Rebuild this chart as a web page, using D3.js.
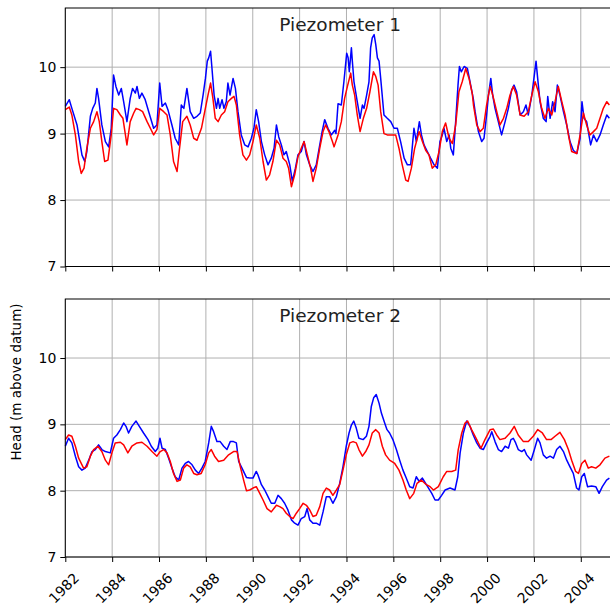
<!DOCTYPE html>
<html>
<head>
<meta charset="utf-8">
<script src="https://cdn.jsdelivr.net/npm/d3@7"></script>
<style>
  body { margin: 0; background: #fff; }
  text { font-family: "DejaVu Sans", sans-serif; }
</style>
</head>
<body>
<div id="chart"></div>
<script>
// Chart size
var width = 610, height = 616;

// Panel titles and year ticks
var panelTitles = ["Piezometer 1", "Piezometer 2"];
var yearTicks = [1982, 1984, 1986, 1988, 1990, 1992, 1994, 1996, 1998, 2000, 2002, 2004];
var headTicks = [7, 8, 9, 10];

// Piezometer 1, blue series [year, head]
var p1Blue = [
  [1982.00, 9.41], [1982.17, 9.51], [1982.28, 9.38], [1982.50, 9.13], [1982.71, 8.68], [1982.83, 8.58],
  [1982.92, 8.73], [1983.07, 9.26], [1983.17, 9.38], [1983.28, 9.46], [1983.35, 9.68], [1983.42, 9.53],
  [1983.56, 9.13], [1983.71, 8.88], [1983.85, 8.80], [1983.96, 9.08], [1984.06, 9.88], [1984.16, 9.71],
  [1984.28, 9.58], [1984.39, 9.68], [1984.49, 9.48], [1984.63, 9.18], [1984.77, 9.53], [1984.87, 9.68],
  [1984.99, 9.61], [1985.06, 9.71], [1985.16, 9.53], [1985.27, 9.61], [1985.41, 9.51], [1985.56, 9.33],
  [1985.77, 9.08], [1985.91, 9.13], [1986.03, 9.76], [1986.13, 9.41], [1986.27, 9.46], [1986.38, 9.36],
  [1986.55, 9.13], [1986.69, 8.93], [1986.84, 8.83], [1986.95, 9.43], [1987.06, 9.38], [1987.19, 9.68],
  [1987.33, 9.33], [1987.48, 9.23], [1987.62, 9.26], [1987.76, 9.31], [1987.88, 9.58], [1987.98, 9.83],
  [1988.06, 10.09], [1988.12, 10.14], [1988.20, 10.24], [1988.26, 9.98], [1988.35, 9.58], [1988.45, 9.38],
  [1988.52, 9.53], [1988.59, 9.38], [1988.69, 9.51], [1988.77, 9.38], [1988.87, 9.48], [1988.94, 9.76],
  [1989.03, 9.58], [1989.16, 9.83], [1989.26, 9.68], [1989.37, 9.33], [1989.51, 8.98], [1989.66, 8.83],
  [1989.80, 8.80], [1989.94, 8.93], [1990.05, 9.08], [1990.15, 9.36], [1990.25, 9.18], [1990.37, 8.88],
  [1990.51, 8.68], [1990.65, 8.53], [1990.79, 8.63], [1990.91, 8.78], [1991.01, 9.13], [1991.11, 8.95],
  [1991.22, 8.83], [1991.33, 8.68], [1991.43, 8.73], [1991.58, 8.53], [1991.69, 8.28], [1991.82, 8.48],
  [1991.93, 8.68], [1992.07, 8.73], [1992.19, 8.88], [1992.29, 8.68], [1992.43, 8.53], [1992.57, 8.43],
  [1992.71, 8.53], [1992.86, 8.83], [1992.96, 9.03], [1993.07, 9.21], [1993.21, 9.08], [1993.35, 8.98],
  [1993.50, 9.05], [1993.55, 9.00], [1993.64, 9.45], [1993.78, 9.43], [1993.89, 9.78], [1994.01, 10.21],
  [1994.07, 10.14], [1994.12, 9.93], [1994.21, 10.29], [1994.25, 10.09], [1994.32, 9.78], [1994.46, 9.48],
  [1994.58, 9.23], [1994.68, 9.43], [1994.75, 9.38], [1994.86, 9.58], [1994.96, 9.78], [1995.03, 10.29],
  [1995.10, 10.44], [1995.18, 10.49], [1995.25, 10.34], [1995.32, 10.14], [1995.39, 10.09], [1995.46, 9.83],
  [1995.60, 9.28], [1995.74, 9.23], [1995.89, 9.18], [1996.03, 9.08], [1996.17, 9.08], [1996.31, 8.88],
  [1996.46, 8.63], [1996.60, 8.53], [1996.74, 8.53], [1996.88, 9.08], [1996.98, 8.88], [1997.11, 9.18],
  [1997.20, 8.98], [1997.31, 8.83], [1997.45, 8.73], [1997.59, 8.63], [1997.74, 8.53], [1997.88, 8.48],
  [1997.99, 8.88], [1998.09, 8.98], [1998.16, 9.08], [1998.28, 8.88], [1998.38, 8.98], [1998.45, 8.78],
  [1998.56, 8.68], [1998.66, 9.18], [1998.76, 9.73], [1998.82, 10.01], [1998.90, 9.93], [1999.02, 10.01],
  [1999.16, 9.98], [1999.30, 9.73], [1999.41, 9.53], [1999.49, 9.33], [1999.63, 9.03], [1999.77, 8.88],
  [1999.87, 8.93], [1999.98, 9.28], [2000.06, 9.58], [2000.16, 9.83], [2000.24, 9.58], [2000.34, 9.38],
  [2000.48, 9.18], [2000.62, 8.98], [2000.77, 9.18], [2000.91, 9.38], [2001.05, 9.66], [2001.15, 9.73],
  [2001.26, 9.63], [2001.41, 9.28], [2001.55, 9.33], [2001.66, 9.43], [2001.76, 9.28], [2001.91, 9.58],
  [2002.00, 9.83], [2002.09, 10.09], [2002.16, 9.83], [2002.26, 9.48], [2002.40, 9.23], [2002.52, 9.18],
  [2002.59, 9.56], [2002.69, 9.23], [2002.80, 9.48], [2002.90, 9.33], [2003.00, 9.73], [2003.11, 9.58],
  [2003.26, 9.33], [2003.40, 9.13], [2003.54, 8.88], [2003.68, 8.75], [2003.83, 8.70], [2003.97, 8.93],
  [2004.05, 9.48], [2004.14, 9.23], [2004.25, 9.18], [2004.37, 8.93], [2004.42, 8.83], [2004.54, 8.98],
  [2004.68, 8.88], [2004.82, 8.98], [2004.96, 9.13], [2005.11, 9.28], [2005.22, 9.23]
];

// Piezometer 1, red series [year, head]
var p1Red = [
  [1982.00, 9.36], [1982.17, 9.40], [1982.28, 9.28], [1982.43, 8.98], [1982.57, 8.58], [1982.68, 8.40],
  [1982.80, 8.48], [1982.92, 8.78], [1983.07, 9.08], [1983.21, 9.18], [1983.35, 9.33], [1983.45, 9.18],
  [1983.56, 8.88], [1983.68, 8.58], [1983.82, 8.60], [1983.96, 8.98], [1984.06, 9.38], [1984.20, 9.36],
  [1984.35, 9.28], [1984.46, 9.23], [1984.63, 8.83], [1984.77, 9.18], [1984.92, 9.31], [1985.02, 9.38],
  [1985.16, 9.36], [1985.30, 9.33], [1985.49, 9.18], [1985.63, 9.08], [1985.77, 8.98], [1985.91, 9.06],
  [1986.03, 9.38], [1986.20, 9.33], [1986.34, 9.28], [1986.48, 8.98], [1986.62, 8.58], [1986.77, 8.43],
  [1986.86, 8.73], [1987.01, 9.18], [1987.19, 9.26], [1987.33, 9.13], [1987.48, 8.93], [1987.62, 8.90],
  [1987.81, 9.08], [1987.95, 9.33], [1988.09, 9.58], [1988.20, 9.76], [1988.30, 9.53], [1988.40, 9.23],
  [1988.52, 9.18], [1988.66, 9.28], [1988.80, 9.33], [1988.94, 9.48], [1989.09, 9.53], [1989.20, 9.56],
  [1989.30, 9.43], [1989.44, 8.98], [1989.58, 8.68], [1989.73, 8.60], [1989.87, 8.68], [1990.01, 8.88],
  [1990.15, 9.13], [1990.30, 8.93], [1990.44, 8.58], [1990.58, 8.30], [1990.72, 8.38], [1990.86, 8.58],
  [1991.01, 8.90], [1991.15, 8.83], [1991.29, 8.63], [1991.43, 8.58], [1991.53, 8.48], [1991.65, 8.20],
  [1991.79, 8.38], [1991.93, 8.65], [1992.07, 8.78], [1992.19, 8.88], [1992.33, 8.68], [1992.47, 8.48],
  [1992.57, 8.28], [1992.71, 8.48], [1992.86, 8.78], [1993.00, 9.03], [1993.11, 9.13], [1993.25, 9.03],
  [1993.40, 8.88], [1993.47, 8.80], [1993.64, 8.98], [1993.78, 9.18], [1993.92, 9.53], [1994.04, 9.71],
  [1994.18, 9.91], [1994.25, 9.73], [1994.35, 9.58], [1994.46, 9.28], [1994.58, 9.03], [1994.72, 9.23],
  [1994.86, 9.38], [1995.00, 9.63], [1995.15, 9.93], [1995.25, 9.86], [1995.35, 9.73], [1995.46, 9.33],
  [1995.60, 9.00], [1995.74, 8.98], [1995.96, 8.98], [1996.10, 8.98], [1996.24, 8.78], [1996.38, 8.53],
  [1996.53, 8.30], [1996.63, 8.28], [1996.77, 8.48], [1996.91, 8.78], [1997.10, 9.03], [1997.24, 8.88],
  [1997.38, 8.75], [1997.52, 8.68], [1997.66, 8.48], [1997.81, 8.53], [1997.95, 8.73], [1998.09, 9.03],
  [1998.23, 9.16], [1998.38, 8.93], [1998.52, 8.85], [1998.66, 9.13], [1998.80, 9.63], [1998.94, 9.78],
  [1999.09, 9.98], [1999.23, 9.83], [1999.37, 9.60], [1999.42, 9.43], [1999.56, 9.13], [1999.70, 9.03],
  [1999.84, 9.08], [1999.98, 9.43], [2000.13, 9.71], [2000.24, 9.58], [2000.38, 9.38], [2000.55, 9.13],
  [2000.70, 9.23], [2000.84, 9.38], [2000.98, 9.58], [2001.12, 9.71], [2001.26, 9.58], [2001.41, 9.28],
  [2001.58, 9.26], [2001.76, 9.33], [2001.91, 9.58], [2002.05, 9.78], [2002.19, 9.63], [2002.33, 9.38],
  [2002.47, 9.23], [2002.62, 9.38], [2002.76, 9.28], [2002.90, 9.48], [2003.04, 9.71], [2003.19, 9.48],
  [2003.33, 9.28], [2003.47, 8.98], [2003.61, 8.73], [2003.83, 8.70], [2003.97, 8.98], [2004.11, 9.31],
  [2004.25, 9.13], [2004.39, 8.98], [2004.54, 9.03], [2004.68, 9.08], [2004.82, 9.23], [2004.96, 9.38],
  [2005.11, 9.48], [2005.22, 9.43]
];

// Piezometer 2, blue series [year, head]
var p2Blue = [
  [1982.00, 8.67], [1982.14, 8.79], [1982.28, 8.72], [1982.43, 8.52], [1982.57, 8.36], [1982.71, 8.31],
  [1982.85, 8.34], [1983.00, 8.46], [1983.14, 8.59], [1983.28, 8.62], [1983.42, 8.69], [1983.56, 8.62],
  [1983.71, 8.59], [1983.92, 8.57], [1984.06, 8.79], [1984.20, 8.84], [1984.35, 8.92], [1984.49, 9.02],
  [1984.59, 8.97], [1984.70, 8.87], [1984.84, 8.97], [1985.02, 9.05], [1985.16, 8.97], [1985.34, 8.87],
  [1985.53, 8.77], [1985.67, 8.67], [1985.84, 8.59], [1985.95, 8.64], [1986.04, 8.79], [1986.13, 8.64],
  [1986.27, 8.62], [1986.41, 8.49], [1986.55, 8.34], [1986.69, 8.21], [1986.84, 8.16], [1986.98, 8.34],
  [1987.12, 8.41], [1987.26, 8.44], [1987.41, 8.39], [1987.55, 8.31], [1987.69, 8.26], [1987.83, 8.34],
  [1987.97, 8.44], [1988.12, 8.72], [1988.23, 8.97], [1988.33, 8.89], [1988.47, 8.74], [1988.61, 8.74],
  [1988.76, 8.67], [1988.90, 8.62], [1989.04, 8.74], [1989.18, 8.74], [1989.30, 8.72], [1989.40, 8.44],
  [1989.54, 8.34], [1989.73, 8.20], [1989.87, 8.19], [1990.01, 8.19], [1990.15, 8.29], [1990.22, 8.24],
  [1990.37, 8.09], [1990.51, 8.01], [1990.65, 7.91], [1990.79, 7.81], [1990.94, 7.81], [1991.08, 7.93],
  [1991.22, 7.88], [1991.36, 7.81], [1991.50, 7.71], [1991.65, 7.56], [1991.79, 7.51], [1991.93, 7.48],
  [1992.07, 7.58], [1992.22, 7.61], [1992.32, 7.73], [1992.43, 7.56], [1992.57, 7.51], [1992.71, 7.51],
  [1992.86, 7.48], [1993.00, 7.68], [1993.14, 7.91], [1993.28, 7.91], [1993.42, 7.81], [1993.57, 7.91],
  [1993.71, 8.11], [1993.85, 8.36], [1993.99, 8.67], [1994.11, 8.87], [1994.21, 8.99], [1994.31, 9.05],
  [1994.42, 8.94], [1994.53, 8.79], [1994.71, 8.77], [1994.85, 8.82], [1994.96, 8.97], [1995.06, 9.27],
  [1995.16, 9.40], [1995.27, 9.45], [1995.39, 9.32], [1995.49, 9.17], [1995.63, 9.02], [1995.73, 8.92],
  [1995.84, 8.87], [1995.98, 8.77], [1996.13, 8.62], [1996.27, 8.46], [1996.41, 8.31], [1996.55, 8.19],
  [1996.70, 8.06], [1996.84, 8.04], [1996.98, 8.21], [1997.10, 8.14], [1997.24, 8.19], [1997.41, 8.09],
  [1997.64, 7.96], [1997.78, 7.86], [1997.92, 7.86], [1998.06, 7.93], [1998.21, 8.01], [1998.42, 8.04],
  [1998.63, 8.01], [1998.75, 8.21], [1998.85, 8.57], [1998.99, 8.87], [1999.13, 9.05], [1999.27, 8.97],
  [1999.41, 8.84], [1999.56, 8.72], [1999.70, 8.64], [1999.84, 8.62], [1999.98, 8.72], [2000.13, 8.82],
  [2000.20, 8.89], [2000.34, 8.74], [2000.48, 8.62], [2000.62, 8.59], [2000.77, 8.67], [2000.91, 8.64],
  [2001.02, 8.77], [2001.12, 8.79], [2001.22, 8.72], [2001.33, 8.62], [2001.48, 8.59], [2001.59, 8.62],
  [2001.69, 8.54], [2001.88, 8.46], [2002.02, 8.62], [2002.16, 8.79], [2002.26, 8.72], [2002.40, 8.54],
  [2002.54, 8.49], [2002.69, 8.52], [2002.83, 8.49], [2002.97, 8.62], [2003.11, 8.67], [2003.26, 8.59],
  [2003.40, 8.46], [2003.54, 8.36], [2003.68, 8.26], [2003.82, 8.04], [2003.92, 8.01], [2004.04, 8.21],
  [2004.15, 8.26], [2004.29, 8.06], [2004.46, 8.07], [2004.64, 8.06], [2004.78, 7.96], [2004.92, 8.06],
  [2005.10, 8.16], [2005.22, 8.19]
];

// Piezometer 2, red series [year, head]
var p2Red = [
  [1982.00, 8.77], [1982.14, 8.84], [1982.28, 8.82], [1982.43, 8.67], [1982.57, 8.49], [1982.78, 8.34],
  [1982.92, 8.36], [1983.07, 8.52], [1983.21, 8.62], [1983.39, 8.67], [1983.56, 8.59], [1983.71, 8.46],
  [1983.85, 8.39], [1983.99, 8.57], [1984.13, 8.72], [1984.35, 8.73], [1984.49, 8.69], [1984.67, 8.57],
  [1984.84, 8.67], [1985.06, 8.72], [1985.27, 8.73], [1985.49, 8.67], [1985.70, 8.59], [1985.91, 8.52],
  [1986.05, 8.59], [1986.20, 8.62], [1986.34, 8.57], [1986.48, 8.44], [1986.62, 8.26], [1986.77, 8.14],
  [1986.91, 8.16], [1987.05, 8.34], [1987.19, 8.39], [1987.33, 8.36], [1987.48, 8.26], [1987.62, 8.24],
  [1987.80, 8.26], [1987.97, 8.39], [1988.12, 8.57], [1988.23, 8.62], [1988.37, 8.52], [1988.54, 8.44],
  [1988.76, 8.46], [1988.97, 8.54], [1989.18, 8.59], [1989.33, 8.59], [1989.47, 8.36], [1989.61, 8.16],
  [1989.73, 8.00], [1989.87, 8.01], [1990.01, 8.04], [1990.15, 8.06], [1990.30, 7.96], [1990.44, 7.86],
  [1990.61, 7.73], [1990.79, 7.68], [1991.01, 7.78], [1991.15, 7.76], [1991.29, 7.73], [1991.43, 7.66],
  [1991.58, 7.61], [1991.72, 7.58], [1991.86, 7.66], [1992.00, 7.73], [1992.15, 7.81], [1992.29, 7.78],
  [1992.43, 7.71], [1992.57, 7.61], [1992.71, 7.63], [1992.86, 7.76], [1993.00, 7.96], [1993.14, 8.04],
  [1993.28, 8.01], [1993.42, 7.93], [1993.57, 8.01], [1993.71, 8.09], [1993.85, 8.31], [1993.99, 8.54],
  [1994.14, 8.72], [1994.28, 8.74], [1994.42, 8.72], [1994.53, 8.62], [1994.68, 8.52], [1994.82, 8.59],
  [1994.96, 8.69], [1995.10, 8.87], [1995.25, 8.92], [1995.39, 8.87], [1995.53, 8.67], [1995.67, 8.54],
  [1995.84, 8.46], [1996.06, 8.41], [1996.24, 8.31], [1996.41, 8.16], [1996.55, 8.01], [1996.70, 7.88],
  [1996.87, 7.96], [1997.01, 8.11], [1997.19, 8.16], [1997.41, 8.09], [1997.57, 8.06], [1997.71, 8.01],
  [1997.92, 8.06], [1998.13, 8.21], [1998.28, 8.29], [1998.49, 8.29], [1998.66, 8.31], [1998.77, 8.62],
  [1998.92, 8.87], [1999.06, 9.02], [1999.17, 9.05], [1999.34, 8.92], [1999.56, 8.77], [1999.74, 8.64],
  [1999.91, 8.77], [2000.13, 8.92], [2000.27, 8.93], [2000.41, 8.84], [2000.55, 8.77], [2000.77, 8.79],
  [2000.98, 8.87], [2001.16, 8.97], [2001.33, 8.84], [2001.55, 8.74], [2001.76, 8.74], [2001.97, 8.82],
  [2002.16, 8.92], [2002.36, 8.87], [2002.54, 8.77], [2002.73, 8.77], [2002.90, 8.82], [2003.11, 8.88],
  [2003.30, 8.77], [2003.47, 8.62], [2003.61, 8.46], [2003.78, 8.29], [2003.90, 8.26], [2004.04, 8.41],
  [2004.18, 8.46], [2004.32, 8.34], [2004.46, 8.36], [2004.64, 8.34], [2004.82, 8.39], [2005.03, 8.49],
  [2005.22, 8.52]
];

var panels = [
  { title: panelTitles[0], blue: p1Blue, red: p1Red, top: 8, bottom: 266.5, labels: false },
  { title: panelTitles[1], blue: p2Blue, red: p2Red, top: 299, bottom: 557, labels: true }
];

var left = 65.3, right = 615;

var svg = d3.select("#chart").append("svg")
    .attr("width", width)
    .attr("height", height);

// Shared x scale
var x = d3.scaleLinear()
    .domain([1982, 2005.46])
    .range([left, right]);

panels.forEach(function(p) {
  var y = d3.scaleLinear()
      .domain([7, 10.89])
      .range([p.bottom, p.top]);

  var g = svg.append("g");

  // gridlines
  g.selectAll(".vgrid")
    .data(yearTicks)
    .enter().append("line")
    .attr("x1", d => x(d)).attr("x2", d => x(d))
    .attr("y1", p.top).attr("y2", p.bottom)
    .attr("stroke", "#b0b0b0").attr("stroke-width", 1);

  g.selectAll(".hgrid")
    .data(headTicks)
    .enter().append("line")
    .attr("x1", left).attr("x2", right)
    .attr("y1", d => y(d)).attr("y2", d => y(d))
    .attr("stroke", "#b0b0b0").attr("stroke-width", 1);

  // lines
  var line = d3.line()
      .x(d => x(d[0]))
      .y(d => y(d[1]));

  g.append("path")
    .datum(p.blue)
    .attr("d", line)
    .attr("fill", "none")
    .attr("stroke", "#0000ff")
    .attr("stroke-width", 1.5)
    .attr("stroke-linejoin", "round");

  g.append("path")
    .datum(p.red)
    .attr("d", line)
    .attr("fill", "none")
    .attr("stroke", "#ff0000")
    .attr("stroke-width", 1.5)
    .attr("stroke-linejoin", "round");

  // spines
  g.append("rect")
    .attr("x", left).attr("y", p.top)
    .attr("width", right - left).attr("height", p.bottom - p.top)
    .attr("fill", "none").attr("stroke", "#000").attr("stroke-width", 1);

  // y axis
  var yAxis = d3.axisLeft(y)
      .tickValues(headTicks)
      .tickSize(5)
      .tickPadding(4)
      .tickFormat(d3.format("d"));
  var ya = g.append("g")
      .attr("transform", "translate(" + left + ",0)")
      .call(yAxis);
  ya.select(".domain").remove();
  ya.selectAll("text").attr("font-size", 14).attr("fill", "#000")
    .style("font-family", "'DejaVu Sans', sans-serif");

  // x axis
  var xAxis = d3.axisBottom(x)
      .tickValues(yearTicks)
      .tickSize(5)
      .tickFormat(p.labels ? d3.format("d") : "");
  var xa = g.append("g")
      .attr("transform", "translate(0," + p.bottom + ")")
      .call(xAxis);
  xa.select(".domain").remove();
  if (p.labels) {
    xa.selectAll("text")
      .attr("font-size", 14)
      .attr("fill", "#000")
      .style("font-family", "'DejaVu Sans', sans-serif")
      .attr("text-anchor", "middle")
      .attr("dy", null)
      .attr("y", 0)
      .attr("dominant-baseline", "central")
      .attr("transform", "translate(-2,31) rotate(-45)");
  }

  // panel title
  g.append("text")
    .attr("x", (left + right) / 2)
    .attr("y", p.top + 23)
    .attr("text-anchor", "middle")
    .attr("font-size", 18.5)
    .attr("fill", "#222")
    .text(p.title);
});

// y label
svg.append("text")
  .attr("transform", "translate(21,382) rotate(-90)")
  .attr("text-anchor", "middle")
  .attr("font-size", 13.5)
  .attr("fill", "#000")
  .text("Head (m above datum)");
</script>
</body>
</html>
